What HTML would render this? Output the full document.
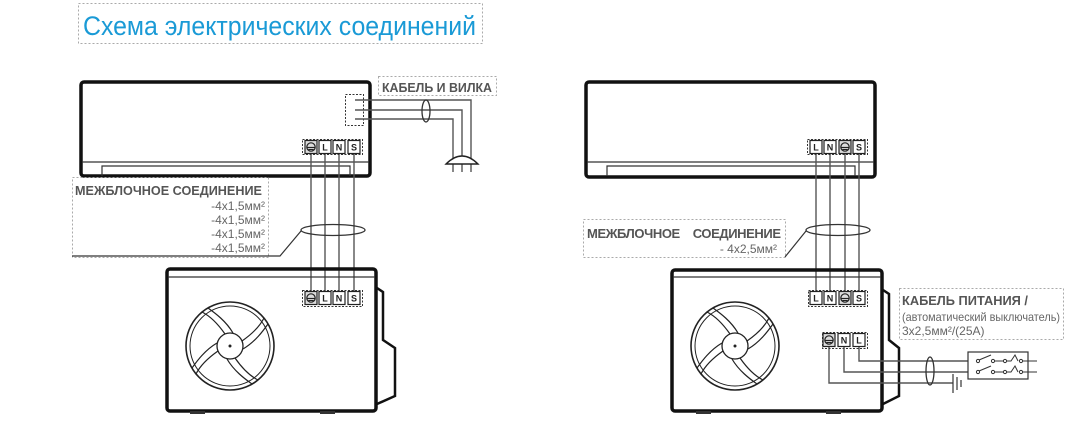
<!DOCTYPE html>
<html><head><meta charset="utf-8"><style>
body{margin:0;background:#fff;}
svg{display:block;font-family:"Liberation Sans","DejaVu Sans",sans-serif;}
.b{fill:none;stroke:#111;stroke-width:3.5;}
.t{fill:none;stroke:#333;stroke-width:1.2;}
.w{fill:none;stroke:#555;stroke-width:1.4;}
.d{fill:none;stroke:#aaa;stroke-width:1;stroke-dasharray:2,2;}
.dk{fill:none;stroke:#333;stroke-width:1;stroke-dasharray:2,1.5;}
.lab{fill:#555;font-weight:bold;font-size:13px;}
.sm{fill:#666;font-size:12px;}
.tm{fill:#222;font-weight:bold;font-size:9px;text-anchor:middle;}
</style></head><body>
<svg width="1090" height="443" viewBox="0 0 1090 443">
<defs>
<g id="term"><rect x="-6" y="-6.5" width="12" height="13" fill="#fff" stroke="#222" stroke-width="1.2"/></g>
<g id="gnd"><rect x="-6" y="-6.5" width="12" height="13" fill="#ddd" stroke="#222" stroke-width="1.2"/><circle cx="0" cy="0" r="4.2" fill="none" stroke="#222" stroke-width="1.2"/><line x1="-4" y1="0.5" x2="4" y2="0.5" stroke="#222" stroke-width="1.2"/><line x1="-2.5" y1="2.5" x2="2.5" y2="2.5" stroke="#222"/></g>
<g id="fan">
<circle r="44" fill="none" stroke="#222" stroke-width="1.6"/>
<circle r="40" fill="none" stroke="#222" stroke-width="1"/>
<circle r="13" fill="#fff" stroke="#222" stroke-width="1.3"/>
<circle r="1.5" fill="#222"/>
<g fill="none" stroke="#222" stroke-width="1.2">
<path d="M-5,-12 C-12,-22 -20,-30 -28,-34 M3,-13 C-4,-25 -15,-33 -22,-38"/>
<path d="M12,-5 C22,-12 30,-20 34,-28 M13,3 C25,-4 33,-15 38,-22"/>
<path d="M5,12 C12,22 20,30 28,34 M-3,13 C4,25 15,33 22,38"/>
<path d="M-12,5 C-22,12 -30,20 -34,28 M-13,-3 C-25,4 -33,15 -38,22"/>
</g></g>
</defs>

<!-- title -->
<rect x="78.5" y="3.5" width="404" height="40" class="d"/>
<text x="83" y="35" font-size="27" fill="#1a9ad6" textLength="393" lengthAdjust="spacingAndGlyphs">Схема электрических соединений</text>

<!-- LEFT indoor -->
<rect x="81" y="82" width="289" height="94" rx="3" class="b"/>
<line x1="82" y1="162" x2="369" y2="162" class="t"/>
<polyline points="102,176 102,166 350,166 350,176" class="t"/>
<rect x="345.5" y="94.5" width="18" height="31" class="dk"/>
<polyline points="355,100 471,100 471,172" class="w"/>
<polyline points="355,110 462,110 462,172" class="w"/>
<polyline points="355,119 453,119 453,172" class="w"/>
<ellipse cx="426" cy="111" rx="4" ry="11" fill="none" stroke="#333" stroke-width="1.3"/>
<path d="M446,164 Q462,148 478,164 Z" fill="#fff" stroke="#222" stroke-width="1.4"/>
<rect x="378.5" y="76.5" width="118" height="19" class="d"/>
<text x="382" y="92" class="lab" textLength="110" lengthAdjust="spacingAndGlyphs">КАБЕЛЬ И ВИЛКА</text>

<g class="w"><line x1="311" y1="154" x2="311" y2="291"/><line x1="325" y1="154" x2="325" y2="291"/><line x1="339" y1="154" x2="339" y2="291"/><line x1="354" y1="154" x2="354" y2="291"/></g>
<rect x="302.5" y="139.5" width="60" height="15" class="dk"/>
<use href="#gnd" x="311" y="147"/><use href="#term" x="325" y="147"/><use href="#term" x="339" y="147"/><use href="#term" x="354" y="147"/>
<text class="tm" x="325" y="150.5">L</text><text class="tm" x="339" y="150.5">N</text><text class="tm" x="354" y="150.5">S</text>

<rect x="72.5" y="177.5" width="196" height="80" class="d"/>
<text x="75" y="195" class="lab" textLength="187" lengthAdjust="spacingAndGlyphs">МЕЖБЛОЧНОЕ СОЕДИНЕНИЕ</text>
<g class="sm" text-anchor="end" font-size="13"><text x="265" y="210">-4x1,5мм²</text><text x="265" y="224">-4x1,5мм²</text><text x="265" y="238">-4x1,5мм²</text><text x="265" y="252">-4x1,5мм²</text></g>
<polyline points="72,256 280,256 301,231" fill="none" stroke="#333" stroke-width="1.2"/>
<ellipse cx="333" cy="230" rx="32" ry="5.5" fill="none" stroke="#333" stroke-width="1.3"/>

<!-- LEFT outdoor -->
<rect x="167" y="269" width="209" height="142" rx="3" class="b" stroke-width="3"/>
<line x1="168" y1="277" x2="375" y2="277" class="t"/>
<path d="M377,288 L383,292 L383,340 L395,348 L395,396 L377,404" fill="none" stroke="#111" stroke-width="2.5"/>
<rect x="190" y="411" width="15" height="3" fill="#333"/><rect x="320" y="411" width="15" height="3" fill="#333"/>
<use href="#fan" x="230" y="346"/>
<rect x="302.5" y="290.5" width="60" height="16" class="dk"/>
<use href="#gnd" x="311" y="298"/><use href="#term" x="325" y="298"/><use href="#term" x="339" y="298"/><use href="#term" x="354" y="298"/>
<text class="tm" x="325" y="301.5">L</text><text class="tm" x="339" y="301.5">N</text><text class="tm" x="354" y="301.5">S</text>

<!-- RIGHT indoor -->
<rect x="586" y="82" width="289" height="95" rx="3" class="b"/>
<line x1="587" y1="162" x2="874" y2="162" class="t"/>
<polyline points="607,176 607,166 855,166 855,176" class="t"/>
<g class="w"><line x1="816" y1="154" x2="816" y2="291"/><line x1="830" y1="154" x2="830" y2="291"/><line x1="845" y1="154" x2="845" y2="291"/><line x1="859" y1="154" x2="859" y2="291"/></g>
<rect x="807.5" y="139.5" width="60" height="15" class="dk"/>
<use href="#term" x="816" y="147"/><use href="#term" x="830" y="147"/><use href="#gnd" x="845" y="147"/><use href="#term" x="859" y="147"/>
<text class="tm" x="816" y="150.5">L</text><text class="tm" x="830" y="150.5">N</text><text class="tm" x="859" y="150.5">S</text>

<rect x="583.5" y="219.5" width="202" height="38" class="d"/>
<text x="587" y="238" class="lab" textLength="194" lengthAdjust="spacing" xml:space="preserve">МЕЖБЛОЧНОЕ    СОЕДИНЕНИЕ</text>
<text x="777" y="253" class="sm" font-size="13" text-anchor="end">-  4x2,5мм²</text>
<polyline points="785,257 806,231" fill="none" stroke="#333" stroke-width="1.2"/>
<ellipse cx="838" cy="230" rx="32" ry="5.5" fill="none" stroke="#333" stroke-width="1.3"/>

<!-- RIGHT outdoor -->
<rect x="672" y="270" width="210" height="141" rx="3" class="b" stroke-width="3"/>
<line x1="673" y1="277" x2="881" y2="277" class="t"/>
<path d="M883,290 L889,294 L889,340 L899,348 L899,396 L883,404" fill="none" stroke="#111" stroke-width="2.5"/>
<rect x="696" y="411" width="15" height="3" fill="#333"/><rect x="826" y="411" width="15" height="3" fill="#333"/>
<use href="#fan" x="735" y="346"/>
<rect x="808.5" y="290.5" width="59" height="16" class="dk"/>
<use href="#term" x="816" y="298"/><use href="#term" x="830" y="298"/><use href="#gnd" x="845" y="298"/><use href="#term" x="859" y="298"/>
<text class="tm" x="816" y="301.5">L</text><text class="tm" x="830" y="301.5">N</text><text class="tm" x="859" y="301.5">S</text>

<polyline points="859,347 859,361 968,361" class="w"/>
<polyline points="844,347 844,372 968,372" class="w"/>
<polyline points="829,347 829,383 953,383" class="w"/>
<rect x="822.5" y="332.5" width="45" height="16" class="dk"/>
<use href="#gnd" x="829" y="340"/><use href="#term" x="844" y="340"/><use href="#term" x="859" y="340"/>
<text class="tm" x="844" y="343.5">N</text><text class="tm" x="859" y="343.5">L</text>
<ellipse cx="930" cy="371" rx="4" ry="14" fill="none" stroke="#333" stroke-width="1.3"/>
<g stroke="#333" stroke-width="1.2"><line x1="953" y1="374" x2="953" y2="393"/><line x1="957" y1="377" x2="957" y2="390"/><line x1="961" y1="380" x2="961" y2="387"/></g>
<rect x="968" y="352" width="60" height="27" fill="#fff" stroke="#333" stroke-width="1.2"/>
<g stroke="#333" stroke-width="1" fill="#fff">
<line x1="1023" y1="361" x2="1037" y2="361"/><line x1="1023" y1="372" x2="1037" y2="372"/>
<line x1="979" y1="360" x2="991" y2="355"/><line x1="979" y1="371" x2="991" y2="366"/>
<line x1="994" y1="361" x2="1004" y2="361"/><line x1="994" y1="372" x2="1004" y2="372"/>
<path d="M1007,361 L1011,361 L1015,355 L1018,361" fill="none"/><path d="M1007,372 L1011,372 L1015,366 L1018,372" fill="none"/>
<circle cx="978" cy="361" r="1.6"/><circle cx="993" cy="361" r="1.6"/><circle cx="1005" cy="361" r="1.6"/><circle cx="1021" cy="361" r="1.6"/>
<circle cx="978" cy="372" r="1.6"/><circle cx="993" cy="372" r="1.6"/><circle cx="1005" cy="372" r="1.6"/><circle cx="1021" cy="372" r="1.6"/>
</g>
<rect x="899.5" y="288.5" width="164" height="51" class="d"/>
<text x="902" y="305" class="lab" textLength="126" lengthAdjust="spacingAndGlyphs">КАБЕЛЬ ПИТАНИЯ /</text>
<text x="902" y="321" class="sm" font-size="11" textLength="158" lengthAdjust="spacingAndGlyphs">(автоматический выключатель)</text>
<text x="902" y="335" class="sm" font-size="11">3x2,5мм²/(25A)</text>
</svg>
</body></html>
